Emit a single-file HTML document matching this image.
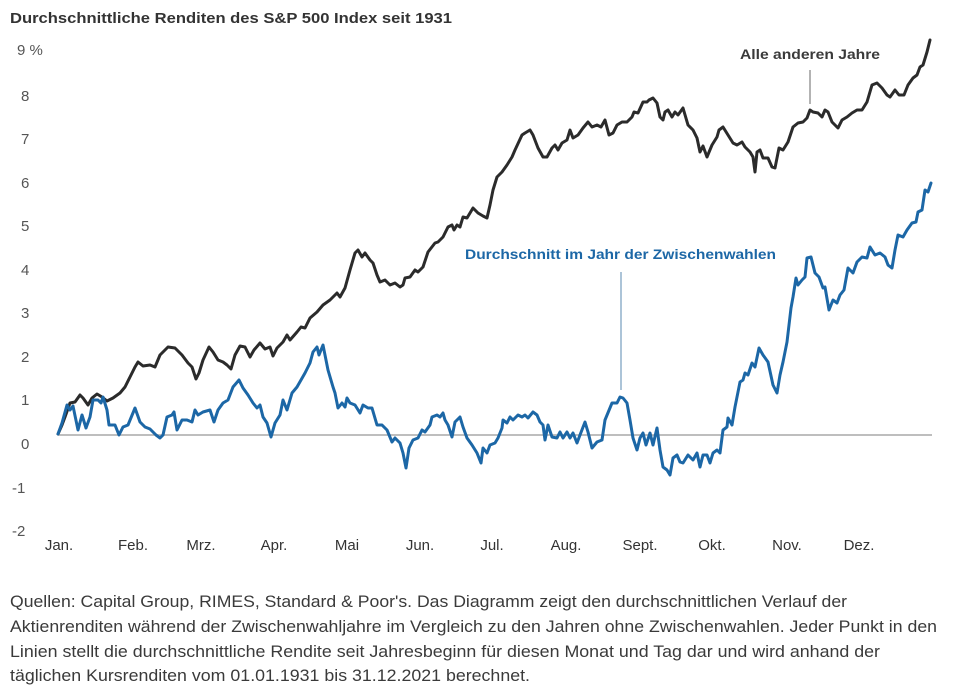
<!DOCTYPE html>
<html>
<head>
<meta charset="utf-8">
<style>
html,body{margin:0;padding:0;background:#fff;}
svg{display:block;}
</style>
</head>
<body>
<svg width="960" height="697" viewBox="0 0 960 697" xmlns="http://www.w3.org/2000/svg">
<rect width="960" height="697" fill="#fff"/>
<!-- Title -->
<text x="10" y="23" font-family="Liberation Sans, sans-serif" font-weight="bold" font-size="15" fill="#333" textLength="442" lengthAdjust="spacingAndGlyphs">Durchschnittliche Renditen des S&amp;P 500 Index seit 1931</text>

<!-- Y labels -->
<g font-family="Liberation Sans, sans-serif" font-size="15" fill="#555">
<text x="17" y="55">9 %</text>
<text x="21" y="101">8</text>
<text x="21" y="144">7</text>
<text x="21" y="188">6</text>
<text x="21" y="231">5</text>
<text x="21" y="275">4</text>
<text x="21" y="318">3</text>
<text x="21" y="362">2</text>
<text x="21" y="405">1</text>
<text x="21" y="449">0</text>
<text x="12" y="493">-1</text>
<text x="12" y="536">-2</text>
</g>

<!-- Month labels -->
<g font-family="Liberation Sans, sans-serif" font-size="15" fill="#333" text-anchor="middle">
<text x="59" y="550">Jan.</text>
<text x="133" y="550">Feb.</text>
<text x="201" y="550">Mrz.</text>
<text x="274" y="550">Apr.</text>
<text x="347" y="550">Mai</text>
<text x="420" y="550">Jun.</text>
<text x="492" y="550">Jul.</text>
<text x="566" y="550">Aug.</text>
<text x="640" y="550">Sept.</text>
<text x="712" y="550">Okt.</text>
<text x="787" y="550">Nov.</text>
<text x="859" y="550">Dez.</text>
</g>

<!-- zero line -->
<line x1="58" y1="435" x2="932" y2="435" stroke="#a8a8a8" stroke-width="1.5"/>

<!-- annotation lines -->
<line x1="810" y1="70" x2="810" y2="104" stroke="#8a8a8a" stroke-width="1.3"/>
<line x1="621" y1="272" x2="621" y2="390" stroke="#7fa3c4" stroke-width="1.3"/>

<!-- Black series -->
<polyline fill="none" stroke="#2b2b2b" stroke-width="3" stroke-linejoin="round" stroke-linecap="round" points="58,434 62,425 65,417 70,403 75,402 80,395 83,398 88,405 92,398 97,394 102,397 107,401 113,398 120,393 125,387 130,377 135,367 138,362 143,366 150,365 155,367 160,355 165,350 168,347 175,348 182,355 188,363 192,367 196,379 199,373 203,360 209,347 213,352 218,360 223,362 227,365 231,369 235,355 240,346 245,347 250,357 254,350 260,343 265,349 270,347 273,356 277,348 283,342 287,335 290,340 297,332 301,327 305,328 310,318 317,312 323,305 330,300 335,295 337,293 340,297 345,288 350,270 355,253 358,250 362,257 365,253 370,260 373,263 377,275 380,282 385,280 390,285 395,283 400,287 403,285 405,278 410,277 415,270 418,272 423,267 428,252 435,243 438,242 443,237 448,227 452,225 454,230 457,225 460,227 463,217 467,218 470,213 473,208 478,213 483,216 487,218 490,205 493,190 497,177 502,172 507,165 512,157 515,150 522,135 525,133 530,130 533,135 538,148 543,157 547,157 552,148 555,145 558,150 562,143 567,140 570,130 573,138 578,135 583,128 588,122 592,127 597,125 601,127 605,120 609,135 613,133 617,125 622,122 627,122 632,117 634,112 638,113 643,102 647,102 649,100 653,98 657,103 660,117 663,120 665,112 668,110 672,117 675,112 678,115 683,108 688,125 693,130 697,138 700,152 703,146 707,157 712,145 717,137 719,130 723,127 728,135 733,143 737,145 742,142 745,147 750,152 753,157 755,172 757,152 760,150 763,158 768,158 772,167 775,168 779,148 783,150 788,142 793,127 798,123 803,122 807,118 810,110 813,112 818,113 822,117 825,110 828,112 832,122 835,125 838,128 842,120 847,117 852,113 857,110 862,110 867,102 872,85 877,83 882,88 887,95 890,97 895,90 899,95 904,95 908,85 913,78 917,75 920,67 923,65 927,52 930,40"/>

<!-- Blue series -->
<polyline fill="none" stroke="#1c67a6" stroke-width="3" stroke-linejoin="round" stroke-linecap="round" points="58,434 62,423 67,405 70,410 73,406 78,430 82,415 86,428 90,417 93,400 98,400 101,403 103,397 107,410 109,425 115,425 119,435 123,427 128,425 135,408 140,422 145,427 150,429 156,435 160,438 163,435 167,417 172,415 174,412 177,430 182,420 187,420 192,422 195,410 198,415 203,412 210,410 214,422 218,410 223,403 228,400 233,387 239,380 243,388 248,395 253,403 257,408 260,405 263,417 267,423 271,437 275,423 280,415 283,400 287,410 292,393 297,387 301,380 305,373 310,363 313,352 317,347 319,355 323,345 328,370 333,387 335,393 338,408 342,403 345,407 347,398 350,403 355,405 360,413 363,405 368,408 372,408 377,425 382,425 387,430 392,442 395,438 400,443 403,453 406,468 409,448 413,440 418,438 422,430 425,432 430,425 432,417 437,415 440,417 443,413 445,420 448,425 452,437 455,422 460,417 463,427 467,438 472,445 477,453 481,463 483,448 487,453 490,445 495,443 498,438 502,428 503,420 507,423 510,417 513,420 518,415 522,417 525,415 528,418 533,412 537,415 540,422 543,425 545,440 548,425 552,437 557,438 560,432 563,438 567,432 570,438 573,433 577,443 580,435 585,422 588,432 592,448 597,442 602,440 605,420 612,403 617,403 620,397 623,398 627,403 630,420 633,438 637,450 640,438 643,433 646,445 650,433 653,445 657,428 660,450 663,467 667,470 670,475 673,458 677,455 680,462 683,463 688,455 693,460 697,453 700,467 703,455 707,455 710,463 713,453 717,450 720,453 723,430 727,427 728,418 732,425 735,407 740,382 743,380 745,373 748,375 752,363 755,367 759,348 763,355 768,362 773,385 777,393 780,375 783,362 787,342 791,308 793,297 796,278 798,285 802,280 805,277 807,258 811,257 815,273 819,277 823,288 825,287 829,310 833,300 837,303 840,295 844,290 848,268 853,273 857,262 862,257 867,258 870,247 875,255 880,253 885,257 888,265 892,268 895,250 898,235 903,237 907,230 912,223 916,222 918,212 922,210 925,190 928,192 931,183"/>

<!-- Annotations -->
<text x="740" y="59" font-family="Liberation Sans, sans-serif" font-weight="bold" font-size="14" fill="#3a3a3a" textLength="140" lengthAdjust="spacingAndGlyphs">Alle anderen Jahre</text>
<text x="465" y="259" font-family="Liberation Sans, sans-serif" font-weight="bold" font-size="14" fill="#1c67a6" textLength="311" lengthAdjust="spacingAndGlyphs">Durchschnitt im Jahr der Zwischenwahlen</text>

<!-- Caption -->
<g font-family="Liberation Sans, sans-serif" font-size="17" fill="#3a3a3a">
<text x="10" y="607" textLength="837" lengthAdjust="spacingAndGlyphs">Quellen: Capital Group, RIMES, Standard &amp; Poor's. Das Diagramm zeigt den durchschnittlichen Verlauf der</text>
<text x="10" y="632" textLength="927" lengthAdjust="spacingAndGlyphs">Aktienrenditen während der Zwischenwahljahre im Vergleich zu den Jahren ohne Zwischenwahlen. Jeder Punkt in den</text>
<text x="10" y="657" textLength="870" lengthAdjust="spacingAndGlyphs">Linien stellt die durchschnittliche Rendite seit Jahresbeginn für diesen Monat und Tag dar und wird anhand der</text>
<text x="10" y="681" textLength="520" lengthAdjust="spacingAndGlyphs">täglichen Kursrenditen vom 01.01.1931 bis 31.12.2021 berechnet.</text>
</g>
</svg>
</body>
</html>
